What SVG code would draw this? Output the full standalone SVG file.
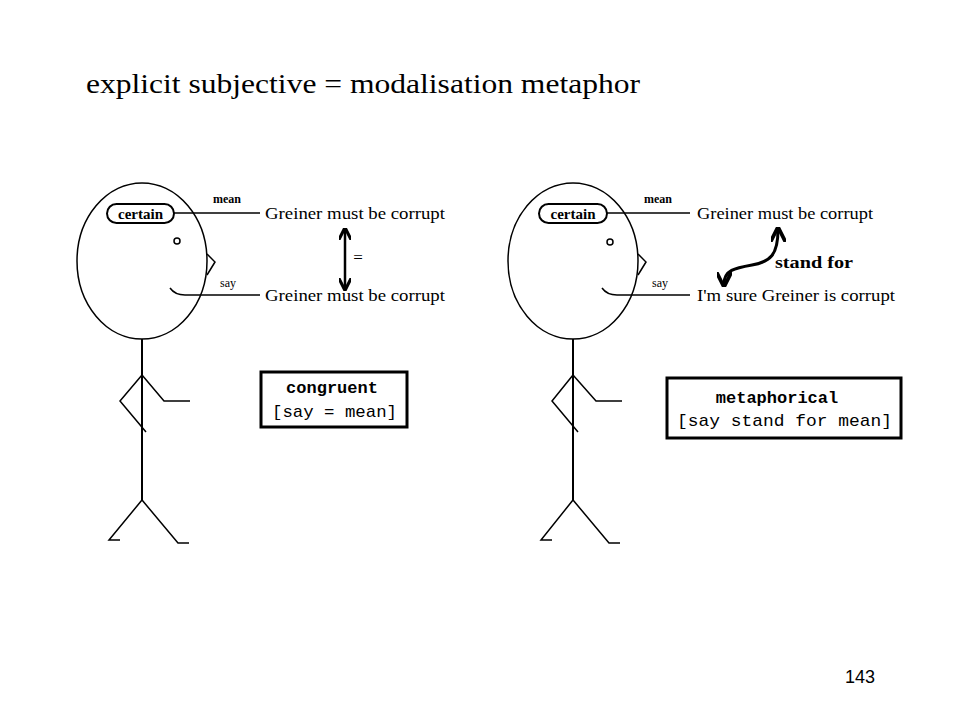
<svg xmlns="http://www.w3.org/2000/svg" width="960" height="720" viewBox="0 0 960 720">
<defs>
<style>
.ln{stroke:#000;stroke-width:1.5;fill:none}
.bd{stroke:#000;stroke-width:2;fill:none}
.big{font-family:"Liberation Serif","Times New Roman",serif;font-size:17px;fill:#000}
.sm{font-family:"Liberation Serif",serif;font-size:12px;fill:#000}
.cert{font-family:"Liberation Serif",serif;font-size:15px;font-weight:bold;fill:#000}
.mono{font-family:"Liberation Mono","Courier New",monospace;font-size:17px;fill:#000}
</style>
<marker id="ah" viewBox="0 0 10 10" refX="8" refY="5" markerWidth="5" markerHeight="5" orient="auto-start-reverse">
<path d="M0,0 L10,5 L0,10" fill="none" stroke="#000" stroke-width="2.5"/>
</marker>
</defs>
<rect width="960" height="720" fill="#fff"/>
<text x="86" y="93" font-family="Liberation Serif,'Times New Roman',serif" font-size="27" textLength="554" lengthAdjust="spacingAndGlyphs">explicit subjective = modalisation metaphor</text>

<g id="figure-left">
<ellipse cx="142" cy="261" rx="65" ry="78" class="ln" stroke-width="1.2"/>
<rect x="107" y="204" width="67" height="19" rx="9.5" class="bd"/>
<text x="140.5" y="219" class="cert" text-anchor="middle">certain</text>
<circle cx="177" cy="241" r="3" class="ln"/>
<path d="M207,254 L215,262 L207,275" class="ln"/>
<path d="M170,288 Q175,295 185,295" class="ln"/>
<line x1="142" y1="339" x2="142" y2="500" class="bd"/>
<path d="M142,375 L164,401 L190,401" class="ln"/>
<path d="M142,375 L120,401 L146,432" class="ln"/>
<path d="M120,540 L109,540 L142,500 L178,543 L189,543" class="ln"/>
</g>

<g id="figure-right">
<ellipse cx="573" cy="261" rx="65" ry="78" class="ln" stroke-width="1.2"/>
<rect x="539" y="204" width="68" height="19" rx="9.5" class="bd"/>
<text x="573" y="219" class="cert" text-anchor="middle">certain</text>
<circle cx="610" cy="242" r="3" class="ln"/>
<path d="M638,254 L646,262 L638,275" class="ln"/>
<path d="M602,288 Q607,295 617,295" class="ln"/>
<line x1="573" y1="339" x2="573" y2="500" class="bd"/>
<path d="M573,375 L596,401 L622,401" class="ln"/>
<path d="M573,375 L552,401 L578,432" class="ln"/>
<path d="M552,540 L541,540 L573,500 L609,543 L620,543" class="ln"/>
</g>

<g id="connectors">
<line x1="174" y1="213" x2="260" y2="213" class="ln"/>
<line x1="185" y1="295" x2="260" y2="295" class="ln"/>
<line x1="607" y1="213" x2="690" y2="213" class="ln"/>
<line x1="617" y1="295" x2="690" y2="295" class="ln"/>
<line x1="345" y1="230" x2="345" y2="288" stroke="#000" stroke-width="2.5" marker-start="url(#ah)" marker-end="url(#ah)"/>
<path d="M778,230 C778,255 770,262 752,265 C735,268 724,270 724,284" fill="none" stroke="#000" stroke-width="3" marker-start="url(#ah)" marker-end="url(#ah)"/>
</g>

<g id="labels-left">
<text x="227" y="203" class="sm" text-anchor="middle" font-weight="bold">mean</text>
<text x="228" y="287" class="sm" text-anchor="middle">say</text>
<text x="265" y="219" class="big" textLength="180" lengthAdjust="spacingAndGlyphs">Greiner must be corrupt</text>
<text x="265" y="301" class="big" textLength="180" lengthAdjust="spacingAndGlyphs">Greiner must be corrupt</text>
<text x="358" y="263" class="big" font-size="20" text-anchor="middle">=</text>
</g>

<g id="labels-right">
<text x="658" y="203" class="sm" text-anchor="middle" font-weight="bold">mean</text>
<text x="660" y="287" class="sm" text-anchor="middle">say</text>
<text x="697" y="219" class="big" textLength="176" lengthAdjust="spacingAndGlyphs">Greiner must be corrupt</text>
<text x="697" y="301" class="big" textLength="198" lengthAdjust="spacingAndGlyphs">I'm sure Greiner is corrupt</text>
<text x="775" y="268" font-family="Liberation Serif,serif" font-size="17" font-weight="bold" textLength="78" lengthAdjust="spacingAndGlyphs">stand for</text>
</g>

<g id="box-congruent">
<rect x="261" y="372" width="146" height="55" fill="#fff" stroke="#000" stroke-width="3"/>
<text x="332" y="393" class="mono" font-weight="bold" text-anchor="middle">congruent</text>
<text x="272" y="417" class="mono" textLength="125" lengthAdjust="spacingAndGlyphs">[say = mean]</text>
</g>

<g id="box-metaphorical">
<rect x="667" y="378" width="234" height="60" fill="#fff" stroke="#000" stroke-width="3"/>
<text x="777" y="403" class="mono" font-weight="bold" text-anchor="middle">metaphorical</text>
<text x="677" y="426" class="mono" textLength="215" lengthAdjust="spacingAndGlyphs">[say stand for mean]</text>
</g>

<text x="875" y="683" font-family="Liberation Sans,Arial,sans-serif" font-size="18" text-anchor="end">143</text>
</svg>
